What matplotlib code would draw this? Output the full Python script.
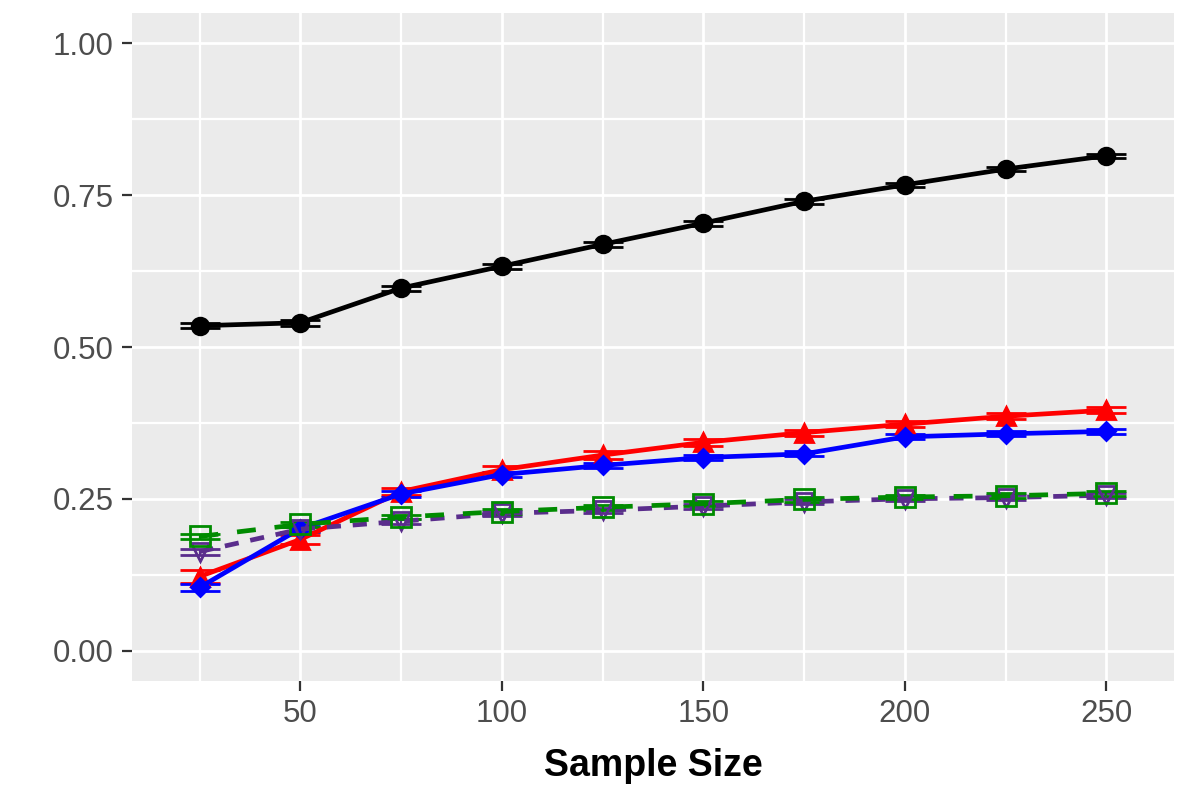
import matplotlib
matplotlib.use("Agg")
import matplotlib.pyplot as plt
import numpy as np

sample_size = [25, 50, 75, 100, 125, 150, 175, 200, 225, 250]

black_vals = [0.535, 0.540, 0.597, 0.633, 0.669, 0.704, 0.740, 0.767, 0.793, 0.815]
black_err = [0.004, 0.005, 0.004, 0.004, 0.004, 0.004, 0.004, 0.003, 0.003, 0.003]

red_vals = [0.122, 0.183, 0.262, 0.298, 0.322, 0.343, 0.359, 0.373, 0.386, 0.396]
red_err = [0.010, 0.007, 0.006, 0.006, 0.006, 0.006, 0.005, 0.005, 0.005, 0.005]

blue_vals = [0.104, 0.201, 0.258, 0.290, 0.305, 0.318, 0.324, 0.352, 0.357, 0.361]
blue_err = [0.005, 0.005, 0.005, 0.004, 0.004, 0.004, 0.004, 0.004, 0.004, 0.004]

purple_vals = [0.163, 0.200, 0.213, 0.226, 0.231, 0.238, 0.245, 0.250, 0.252, 0.256]
purple_err = [0.005, 0.004, 0.004, 0.004, 0.004, 0.004, 0.004, 0.004, 0.004, 0.004]

green_vals = [0.188, 0.208, 0.220, 0.229, 0.236, 0.242, 0.249, 0.253, 0.255, 0.259]
green_err = [0.004, 0.004, 0.004, 0.004, 0.004, 0.004, 0.004, 0.004, 0.004, 0.004]

x_ticks = [50, 100, 150, 200, 250]
y_ticks = [0.00, 0.25, 0.50, 0.75, 1.00]
y_tick_labels = ["0.00", "0.25", "0.50", "0.75", "1.00"]
x_label = "Sample Size"

plt.rcParams['font.family'] = ['Liberation Sans', 'DejaVu Sans']

fig = plt.figure(figsize=(11.96, 7.97), dpi=100)
ax = fig.add_axes([132/1196, 1-681/797, (1174-132)/1196, (681-13)/797])
ax.set_facecolor('#EBEBEB')
for s in ax.spines.values():
    s.set_visible(False)

ax.set_xlim(8.25, 266.75)
ax.set_ylim(-0.05, 1.05)
ax.set_xticks(x_ticks)
ax.set_xticks([25, 75, 125, 175, 225], minor=True)
ax.set_yticks(y_ticks)
ax.set_yticklabels(y_tick_labels)
ax.set_yticks([0.125, 0.375, 0.625, 0.875], minor=True)
ax.grid(which='major', color='white', linewidth=2.0)
ax.grid(which='minor', color='white', linewidth=1.6)
ax.set_axisbelow(True)
ax.tick_params(which='major', length=7, width=1.6, color='#333333',
               labelsize=22.5, labelcolor='#4D4D4D', pad=6)
ax.tick_params(which='minor', length=0)

cap = 14.5
series = [
    (black_vals, black_err, 'black', 'o', '-', 'full', 12),
    (red_vals, red_err, '#FF0000', '^', '-', 'full', 13),
    (blue_vals, blue_err, '#0000FF', 'D', '-', 'full', 9.5),
    (purple_vals, purple_err, '#5A2D8C', 'v', (0, (3, 2.5)), 'none', 13),
    (green_vals, green_err, '#008B00', 's', (0, (4, 4)), 'none', 15),
]
for vals, err, col, mk, ls, fs, ms in series:
    ax.errorbar(sample_size, vals, yerr=err, color=col, ecolor=col,
                elinewidth=1.6, capsize=cap, capthick=1.6, linestyle=ls,
                linewidth=3.4, marker=mk, markersize=ms, fillstyle=fs,
                markeredgewidth=2)

fig.text((132+1174)/2/1196, 1-776/797, x_label, ha='center', va='baseline',
         fontsize=27, fontweight='bold', color='black')

fig.savefig('out.png', dpi=100, facecolor='white')
